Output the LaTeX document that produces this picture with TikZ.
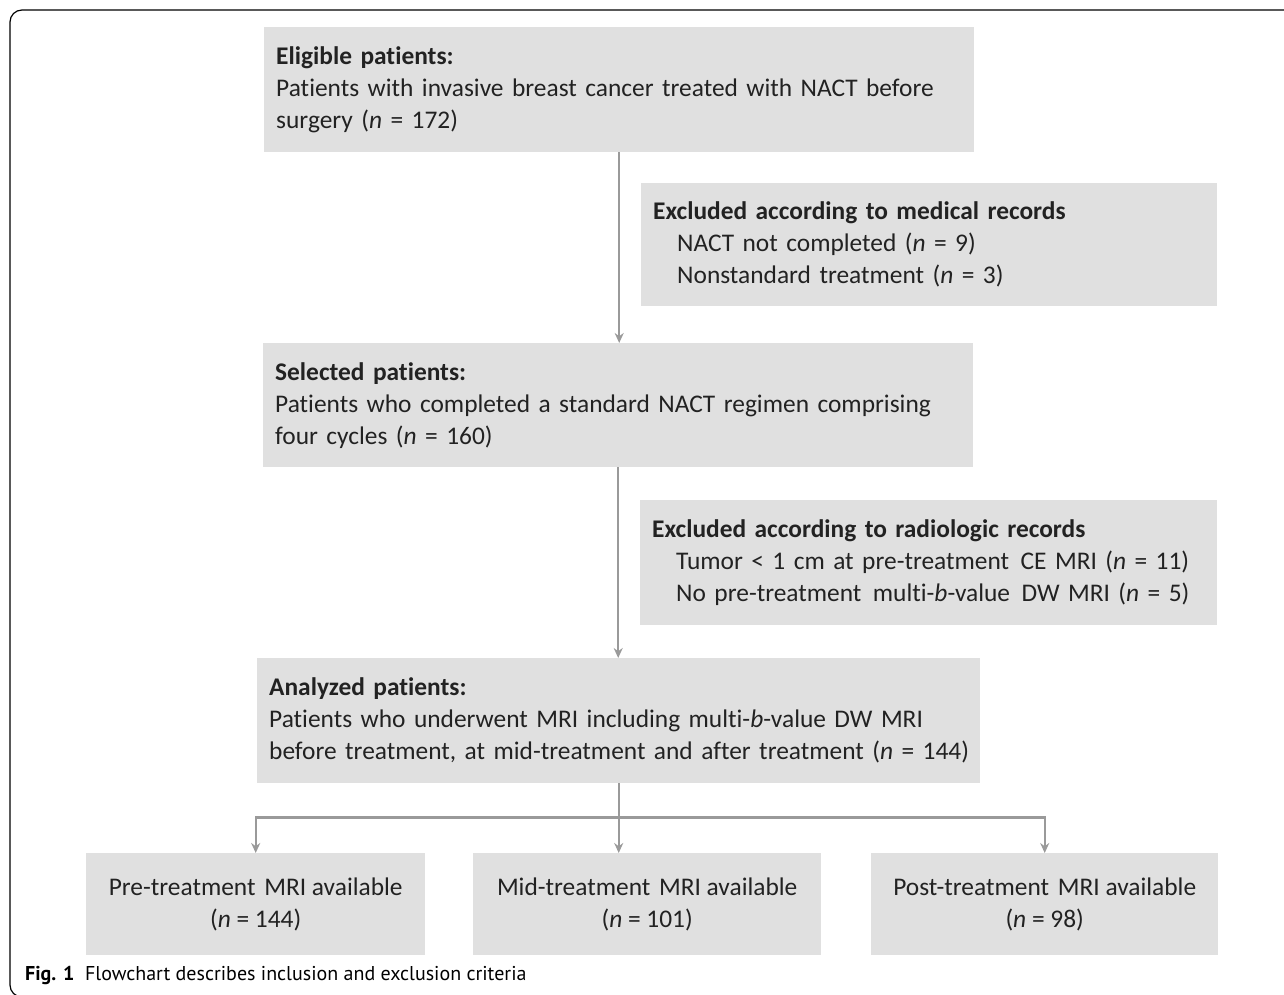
\documentclass[tikz,border=0pt]{standalone}
\usepackage{fontspec}
\setmainfont{Carlito}[RawFeature={-liga;-clig;-calt;-dlig;-rlig}]
\newfontfamily\capfont{PT Sans}
\usepackage{tikz}
\usetikzlibrary{arrows.meta}

\definecolor{boxgray}{HTML}{E0E0E0}
\definecolor{linegray}{HTML}{9A9A9A}
\definecolor{inkgray}{HTML}{222222}

% keep t and i apart (no ligature)
\newcommand{\tix}{t\kern0pt i}

\tikzset{
  mainbox/.style={rectangle, fill=boxgray, anchor=north west, align=left,
    inner xsep=12pt, inner ysep=0pt, text=inkgray,
    font=\fontsize{25.4}{32}\selectfont},
  sidebox/.style={mainbox},
  endbox/.style={mainbox, align=center, minimum width=340pt, minimum height=102pt},
  flow/.style={draw=linegray, line width=2.4pt, -{Stealth[length=10pt,width=9pt]}}
}

\begin{document}
\begin{tikzpicture}[x=1pt,y=-1pt]
\useasboundingbox (0,0) rectangle (1284,995);
% outer frame
\draw[line width=1.2pt, rounded corners=12pt] (1300,10) -- (10,10) -- (10,997) -- (40,997);

\node[mainbox, minimum width=710pt, minimum height=125pt, text width=686pt] (elig) at (264,27)
  {\textbf{Eligible pa\tix ents:}\\Pa\tix ents with invasive breast cancer treated with NACT before\\surgery (\textit{n} = 172)};
\node[sidebox, minimum width=576pt, minimum height=123pt, text width=552pt] (exc1) at (641,183)
  {\textbf{Excluded according to medical records}\\
   \hspace*{24pt}NACT not completed (\textit{n} = 9)\\
   \hspace*{24pt}Nonstandard treatment (\textit{n} = 3)};
\node[mainbox, minimum width=710pt, minimum height=124pt, text width=686pt] (sel) at (263,343)
  {\textbf{Selected pa\tix ents:}\\Pa\tix ents who completed a standard NACT regimen comprising\\four cycles (\textit{n} = 160)};
\node[sidebox, minimum width=577pt, minimum height=125pt, text width=553pt] (exc2) at (640,500)
  {\textbf{Excluded according to radiologic records}\\
   \hspace*{24pt}Tumor < 1 cm at pre-treatment\hspace{3pt} CE MRI (\textit{n} = 11)\\
   \hspace*{24pt}No pre-treatment\hspace{3pt} multi-\textit{b}-value\hspace{3pt} DW MRI (\textit{n} = 5)};
\node[mainbox, minimum width=723pt, minimum height=125pt, text width=699pt] (ana) at (257,658)
  {\textbf{Analyzed pa\tix ents:}\\Pa\tix ents who underwent MRI including multi-\textit{b}-value DW MRI\\\mbox{before treatment, at mid-treatment and after treatment (\textit{n} = 144)}};

\node[endbox, minimum width=339pt] (pre) at (86,853) {Pre-treatment\hspace{3pt} MRI available\\(\textit{n} = 144)};
\node[endbox, minimum width=348pt] (mid) at (473,853) {Mid-treatment\hspace{3pt} MRI available\\(\textit{n} = 101)};
\node[endbox, minimum width=347pt] (post) at (871,853) {Post-treatment\hspace{3pt} MRI available\\(\textit{n} = 98)};

\draw[flow] (elig.south) -- (elig.south |- sel.north);
\draw[flow] (sel.south) -- (sel.south |- ana.north);
\draw[flow] (ana.south) -- (ana.south |- mid.north);
\path (ana.south) ++(0,34) coordinate (split);
\draw[flow] (split) -| (pre.north);
\draw[flow] (split) -| (post.north);

\node[anchor=west, inner sep=0pt, font=\capfont\fontsize{20}{24}\selectfont] (cap) at (25,975)
  {\textbf{Fig. 1}\ \ Flowchart describes inclusion and exclusion criteria};
\end{tikzpicture}
\end{document}
